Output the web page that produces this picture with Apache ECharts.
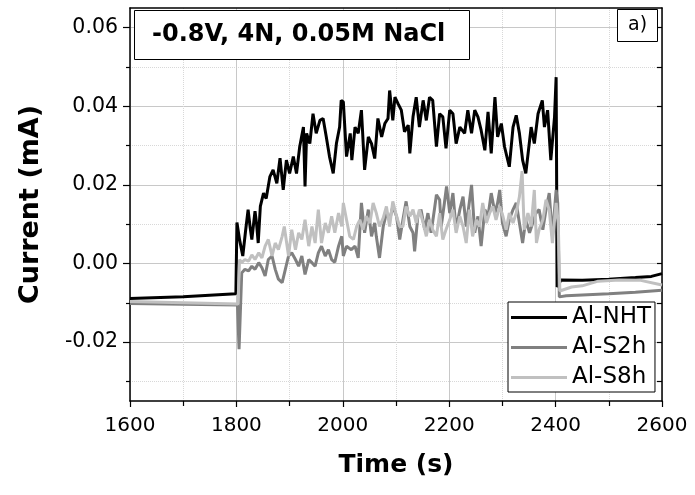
<!DOCTYPE html>
<html>
<head>
<meta charset="utf-8">
<script src="https://cdn.jsdelivr.net/npm/echarts@6/dist/echarts.min.js"></script>
<style>
  html, body { margin: 0; padding: 0; background: #fff; }
  #chart { width: 695px; height: 495px; }
</style>
</head>
<body>
<div id="chart"></div>
<script>
// time (s) and current (mA)
const timeNHT = [1600, 1700, 1799, 1801, 1806, 1812, 1817, 1822, 1826, 1829, 1835, 1838, 1841, 1845, 1851, 1856, 1863, 1869, 1876, 1882, 1888, 1894, 1900, 1907, 1913, 1919, 1926, 1929, 1932, 1938, 1944, 1950, 1957, 1963, 1969, 1975, 1982, 1988, 1994, 1997, 2001, 2007, 2014, 2017, 2023, 2029, 2035, 2041, 2048, 2054, 2060, 2066, 2073, 2079, 2085, 2088, 2094, 2098, 2104, 2110, 2116, 2123, 2126, 2132, 2138, 2144, 2151, 2157, 2163, 2169, 2176, 2182, 2188, 2194, 2201, 2207, 2213, 2220, 2229, 2235, 2242, 2248, 2254, 2260, 2267, 2273, 2279, 2286, 2291, 2298, 2304, 2313, 2320, 2326, 2332, 2338, 2344, 2354, 2360, 2367, 2375, 2379, 2385, 2391, 2398, 2401, 2403, 2410, 2450, 2500, 2550, 2580, 2600]
const currentNHT = [-0.0089, -0.0085, -0.0077, 0.0104, 0.0060, 0.0019, 0.0080, 0.0137, 0.0090, 0.0061, 0.0133, 0.0100, 0.0052, 0.0145, 0.0179, 0.0165, 0.0221, 0.0238, 0.0204, 0.0268, 0.0187, 0.0263, 0.0229, 0.0272, 0.0229, 0.0297, 0.0347, 0.0196, 0.0331, 0.0305, 0.0381, 0.0331, 0.0364, 0.0369, 0.0322, 0.0272, 0.0229, 0.0305, 0.0347, 0.0415, 0.0411, 0.0272, 0.0331, 0.0263, 0.0347, 0.0331, 0.0390, 0.0238, 0.0322, 0.0305, 0.0267, 0.0369, 0.0322, 0.0356, 0.0369, 0.0440, 0.0364, 0.0423, 0.0406, 0.0390, 0.0335, 0.0352, 0.0280, 0.0373, 0.0423, 0.0347, 0.0415, 0.0364, 0.0423, 0.0415, 0.0297, 0.0381, 0.0373, 0.0293, 0.0390, 0.0381, 0.0305, 0.0347, 0.0331, 0.0390, 0.0331, 0.0390, 0.0373, 0.0339, 0.0288, 0.0386, 0.0280, 0.0423, 0.0322, 0.0356, 0.0297, 0.0246, 0.0347, 0.0377, 0.0331, 0.0263, 0.0229, 0.0347, 0.0305, 0.0381, 0.0415, 0.0347, 0.0390, 0.0263, 0.0373, 0.0474, -0.0060, -0.0042, -0.0043, -0.0040, -0.0036, -0.0033, -0.0026]

const timeS2h = [1600, 1700, 1802, 1805, 1810, 1816, 1823, 1829, 1835, 1842, 1848, 1854, 1860, 1867, 1873, 1879, 1886, 1892, 1898, 1904, 1911, 1917, 1923, 1929, 1936, 1942, 1948, 1954, 1960, 1967, 1973, 1979, 1985, 1992, 1998, 2001, 2007, 2010, 2016, 2023, 2029, 2035, 2041, 2048, 2054, 2060, 2063, 2069, 2076, 2082, 2088, 2094, 2101, 2107, 2113, 2119, 2126, 2132, 2135, 2141, 2147, 2154, 2160, 2166, 2173, 2176, 2182, 2185, 2191, 2195, 2201, 2207, 2213, 2220, 2226, 2232, 2242, 2248, 2254, 2260, 2267, 2273, 2279, 2286, 2291, 2295, 2300, 2307, 2313, 2320, 2326, 2332, 2338, 2344, 2351, 2357, 2363, 2369, 2376, 2382, 2388, 2394, 2401, 2404, 2407, 2420, 2500, 2550, 2600]
const currentS2h = [-0.0102, -0.0104, -0.0106, -0.0218, -0.0024, -0.0015, -0.0019, -0.0007, -0.0015, 0.0002, -0.0011, -0.0032, 0.0010, 0.0019, -0.0015, -0.0040, -0.0049, -0.0015, 0.0019, 0.0027, 0.0010, -0.0007, 0.0019, -0.0028, 0.0010, 0.0002, -0.0007, 0.0027, 0.0044, 0.0019, 0.0035, 0.0010, 0.0003, 0.0044, 0.0069, 0.0019, 0.0044, 0.0044, 0.0035, 0.0044, 0.0014, 0.0154, 0.0078, 0.0137, 0.0069, 0.0103, 0.0069, 0.0014, 0.0094, 0.0128, 0.0111, 0.0145, 0.0120, 0.0061, 0.0111, 0.0158, 0.0094, 0.0078, 0.0031, 0.0120, 0.0137, 0.0086, 0.0128, 0.0078, 0.0145, 0.0175, 0.0162, 0.0094, 0.0154, 0.0196, 0.0128, 0.0179, 0.0086, 0.0137, 0.0170, 0.0094, 0.0200, 0.0078, 0.0120, 0.0044, 0.0137, 0.0120, 0.0179, 0.0128, 0.0154, 0.0187, 0.0103, 0.0069, 0.0111, 0.0137, 0.0154, 0.0103, 0.0052, 0.0111, 0.0078, 0.0103, 0.0128, 0.0137, 0.0086, 0.0137, 0.0179, 0.0069, 0.0187, 0.0154, -0.0085, -0.0082, -0.0077, -0.0073, -0.0068]

const timeS8h = [1600, 1700, 1803, 1806, 1810, 1816, 1823, 1829, 1835, 1842, 1848, 1854, 1860, 1867, 1873, 1879, 1886, 1890, 1898, 1904, 1911, 1917, 1923, 1929, 1936, 1942, 1948, 1954, 1960, 1967, 1973, 1979, 1985, 1992, 1998, 2001, 2007, 2013, 2020, 2026, 2032, 2038, 2044, 2051, 2057, 2063, 2069, 2076, 2082, 2088, 2094, 2101, 2107, 2113, 2119, 2126, 2132, 2138, 2144, 2151, 2157, 2163, 2169, 2176, 2182, 2188, 2194, 2201, 2207, 2213, 2220, 2226, 2232, 2238, 2244, 2251, 2257, 2263, 2270, 2276, 2282, 2288, 2295, 2301, 2307, 2313, 2320, 2326, 2332, 2337, 2341, 2348, 2354, 2360, 2364, 2369, 2376, 2382, 2388, 2394, 2401, 2405, 2408, 2430, 2450, 2480, 2520, 2560, 2600]
const currentS8h = [-0.0097, -0.0100, -0.0103, 0.0010, 0.0002, 0.0010, 0.0006, 0.0022, 0.0010, 0.0027, 0.0014, 0.0044, 0.0061, 0.0019, 0.0052, 0.0035, 0.0069, 0.0094, 0.0019, 0.0086, 0.0035, 0.0078, 0.0061, 0.0111, 0.0044, 0.0094, 0.0052, 0.0137, 0.0052, 0.0103, 0.0078, 0.0120, 0.0078, 0.0128, 0.0094, 0.0154, 0.0111, 0.0069, 0.0061, 0.0094, 0.0111, 0.0086, 0.0120, 0.0103, 0.0154, 0.0128, 0.0094, 0.0116, 0.0145, 0.0094, 0.0158, 0.0120, 0.0094, 0.0094, 0.0145, 0.0120, 0.0137, 0.0103, 0.0137, 0.0103, 0.0069, 0.0111, 0.0086, 0.0069, 0.0128, 0.0061, 0.0086, 0.0111, 0.0137, 0.0078, 0.0120, 0.0094, 0.0052, 0.0137, 0.0069, 0.0111, 0.0094, 0.0154, 0.0103, 0.0128, 0.0145, 0.0111, 0.0145, 0.0120, 0.0086, 0.0128, 0.0103, 0.0128, 0.0170, 0.0235, 0.0086, 0.0128, 0.0094, 0.0187, 0.0052, 0.0086, 0.0111, 0.0162, 0.0137, 0.0052, 0.0154, 0.0103, -0.0070, -0.0060, -0.0057, -0.0045, -0.0042, -0.0043, -0.0055]

const seriesNames = ['Al-NHT', 'Al-S2h', 'Al-S8h']
const seriesColors = ['#000000', '#808080', '#c0c0c0']
const majorTicksY = [-0.02, 0, 0.02, 0.04, 0.06]
const minorTicksY = [-0.03, -0.01, 0.01, 0.03, 0.05]

const font = 'DejaVu Sans'
const zip = (t, v) => t.map((x, i) => [x, v[i]])

const chart = echarts.init(document.getElementById('chart'))

const frameLine = { show: true, onZero: false, lineStyle: { color: '#000', width: 1.5 } }

const option = {
  animation: false,
  backgroundColor: '#fff',
  textStyle: { fontFamily: font },
  title: [
    {
      text: '-0.8V, 4N, 0.05M NaCl',
      left: 134,
      top: 10,
      padding: [13, 24, 13, 18],
      borderColor: '#000',
      borderWidth: 1,
      backgroundColor: '#fff',
      textStyle: { fontFamily: font, fontSize: 24, fontWeight: 'bold', color: '#000' }
    },
    {
      text: 'a)',
      left: 617,
      top: 9,
      padding: [7, 11, 7, 11],
      borderColor: '#000',
      borderWidth: 1,
      backgroundColor: '#fff',
      textStyle: { fontFamily: font, fontSize: 19, fontWeight: 'normal', color: '#000' }
    }
  ],
  legend: {
    data: seriesNames,
    orient: 'vertical',
    left: 508,
    top: 302,
    padding: [4, 4, 3, 3],
    itemWidth: 56,
    itemHeight: 14,
    itemGap: 7,
    borderColor: '#000',
    borderWidth: 1,
    backgroundColor: '#fff',
    icon: 'path://M0,5.5 L56,5.5 L56,8.5 L0,8.5 Z',
    textStyle: { fontFamily: font, fontSize: 23, color: '#000' }
  },
  grid: { left: 130, right: 33, top: 8, bottom: 94 },
  xAxis: [
    {
      type: 'value',
      min: 1600,
      max: 2600,
      interval: 200,
      name: 'Time (s)',
      nameLocation: 'middle',
      nameGap: 52,
      nameTextStyle: { fontFamily: font, fontSize: 25, fontWeight: 'bold', color: '#000' },
      axisLine: frameLine,
      axisTick: { show: true, inside: false, length: 6, lineStyle: { color: '#000', width: 1.2 } },
      minorTick: { show: true, splitNumber: 2, length: 5, lineStyle: { color: '#000', width: 1.2 } },
      axisLabel: { fontFamily: font, fontSize: 20, color: '#000', margin: 15, formatter: v => String(v) },
      splitLine: { show: true, lineStyle: { color: '#c8c8c8', width: 1 } },
      minorSplitLine: { show: true, lineStyle: { color: '#d8d8d8', width: 1, type: 'dotted' } }
    },
    {
      type: 'value',
      position: 'top',
      min: 1600,
      max: 2600,
      interval: 200,
      axisLine: frameLine,
      axisTick: { show: false },
      axisLabel: { show: false },
      splitLine: { show: false }
    }
  ],
  yAxis: [
    {
      type: 'value',
      position: 'left',
      min: -0.035,
      max: 0.065,
      splitNumber: 5,
      name: 'Current (mA)',
      nameLocation: 'middle',
      nameGap: 86,
      nameTextStyle: { fontFamily: font, fontSize: 27, fontWeight: 'bold', color: '#000' },
      axisLine: frameLine,
      axisTick: { show: true, length: 7, customValues: majorTicksY, lineStyle: { color: '#000', width: 1.2 } },
      axisLabel: {
        fontFamily: font, fontSize: 20.5, color: '#000', margin: 12,
        customValues: majorTicksY,
        formatter: v => v.toFixed(2)
      },
      splitLine: { show: true, lineStyle: { color: '#c8c8c8', width: 1 } }
    },
    {
      type: 'value',
      position: 'left',
      min: -0.035,
      max: 0.065,
      splitNumber: 10,
      axisLine: { show: false },
      axisTick: { show: true, length: 4, customValues: minorTicksY, lineStyle: { color: '#000', width: 1.2 } },
      axisLabel: { show: false },
      splitLine: { show: true, lineStyle: { color: '#d8d8d8', width: 1, type: 'dotted' } },
      z: 0
    },
    {
      type: 'value',
      position: 'right',
      min: -0.035,
      max: 0.065,
      splitNumber: 10,
      axisLine: frameLine,
      axisTick: { show: true, inside: true, length: 5, customValues: majorTicksY.concat(minorTicksY), lineStyle: { color: '#000', width: 1.2 } },
      axisLabel: { show: false },
      splitLine: { show: false }
    }
  ],
  series: [
    { name: seriesNames[0], data: zip(timeNHT, currentNHT) },
    { name: seriesNames[1], data: zip(timeS2h, currentS2h) },
    { name: seriesNames[2], data: zip(timeS8h, currentS8h) }
  ].map((s, i) => ({
    ...s,
    type: 'line',
    symbol: 'none',
    showSymbol: false,
    color: seriesColors[i],
    lineStyle: { color: seriesColors[i], width: 3 },
    z: 2 + i
  }))
}

chart.setOption(option)
</script>
</body>
</html>
